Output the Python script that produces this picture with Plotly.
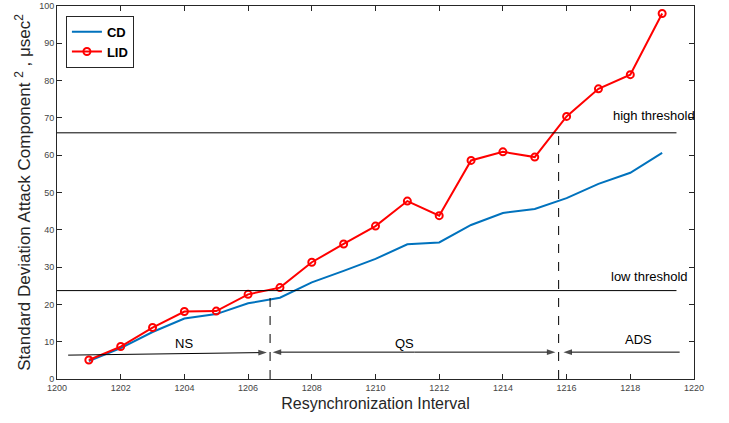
import plotly.graph_objects as go

intervals = list(range(1201, 1220))
cd = [4.8, 8.3, 12.6, 16.2, 17.4, 20.3, 21.8, 25.9, 29.0, 32.2, 36.1, 36.6, 41.3, 44.5, 45.6, 48.5, 52.3, 55.3, 60.6]
lid = [5.1, 8.7, 13.8, 18.1, 18.2, 22.7, 24.5, 31.3, 36.2, 41.0, 47.7, 43.8, 58.6, 60.9, 59.5, 70.4, 77.8, 81.6, 98.0]

high_threshold = 66.0
low_threshold = 23.7
threshold_x = [1200, 1219.45]
boundary_ns_qs = 1206.69
boundary_qs_ads = 1215.75
x_ticks = list(range(1200, 1221, 2))
y_ticks = list(range(0, 101, 10))

fig = go.Figure()
fig.add_trace(go.Scatter(x=intervals, y=cd, mode="lines", name="<b>CD</b>",
                         line=dict(color="#0072BD", width=2)))
fig.add_trace(go.Scatter(x=intervals, y=lid, mode="lines+markers", name="<b>LID</b>",
                         line=dict(color="#FF0000", width=2),
                         marker=dict(symbol="circle-open", size=7, color="#FF0000",
                                     line=dict(width=2, color="#FF0000"))))

for yv in [high_threshold, low_threshold]:
    fig.add_shape(type="line", x0=threshold_x[0], x1=threshold_x[1], y0=yv, y1=yv,
                  xref="x", yref="y", line=dict(color="black", width=1))
fig.add_shape(type="line", x0=boundary_ns_qs, x1=boundary_ns_qs, y0=0, y1=21.7,
              line=dict(color="black", width=1, dash="dash"))
fig.add_shape(type="line", x0=boundary_qs_ads, x1=boundary_qs_ads, y0=0, y1=67.0,
              line=dict(color="black", width=1, dash="dash"))

def arrow(x_tail, y_tail, x_head, y_head):
    fig.add_trace(go.Scatter(x=[x_tail, x_head], y=[y_tail, y_head], mode="lines+markers",
                             showlegend=False, hoverinfo="skip",
                             line=dict(color="black", width=1),
                             marker=dict(symbol=["circle", "arrow"], size=[0, 9],
                                         angleref="previous", color="black",
                                         line=dict(width=0))))

qs_mid = (boundary_ns_qs + boundary_qs_ads) / 2
arrow(1200.35, 6.4, boundary_ns_qs - 0.1, 7.1)
arrow(qs_mid, 7.2, boundary_ns_qs + 0.08, 7.2)
arrow(qs_mid, 7.2, boundary_qs_ads - 0.1, 7.2)
arrow(1219.55, 7.2, boundary_qs_ads + 0.15, 7.2)

labels = [("NS", 1204.0, 9.6), ("QS", 1210.9, 9.6), ("ADS", 1218.25, 10.6),
          ("high threshold", 1218.75, 70.6), ("low threshold", 1218.6, 27.6)]
for t, xv, yv in labels:
    fig.add_annotation(x=xv, y=yv, text=t, showarrow=False, xref="x", yref="y",
                       font=dict(size=13, color="black", family="Liberation Sans, Arial"))

axis_common = dict(showline=True, linecolor="#262626", linewidth=1, mirror="ticks",
                   ticks="inside", ticklen=5, tickcolor="#262626", showgrid=False,
                   zeroline=False, automargin=False,
                   tickfont=dict(size=9, color="#444444", family="Liberation Sans, Arial"))
fig.update_xaxes(range=[1200, 1220], tickvals=x_ticks, **axis_common,
                 title=dict(text="Resynchronization Interval", standoff=6,
                            font=dict(size=16, color="#262626", family="Liberation Sans, Arial")))
fig.update_yaxes(range=[0, 100], tickvals=y_ticks, **axis_common,
                 title=dict(text="Standard Deviation Attack Component <sup>2</sup> , \u03bcsec<sup>2</sup>",
                            standoff=4,
                            font=dict(size=17, color="#262626", family="Liberation Sans, Arial")))

fig.update_layout(width=729, height=423, margin=dict(l=57, r=35, t=6, b=44),
                  plot_bgcolor="white", paper_bgcolor="white",
                  legend=dict(x=0.014, y=0.974, xanchor="left", yanchor="top",
                              bordercolor="#262626", borderwidth=1, bgcolor="white",
                              font=dict(size=13, color="black", family="Liberation Sans, Arial"),
                              tracegroupgap=0, itemwidth=30))
fig.write_html("out.html")
